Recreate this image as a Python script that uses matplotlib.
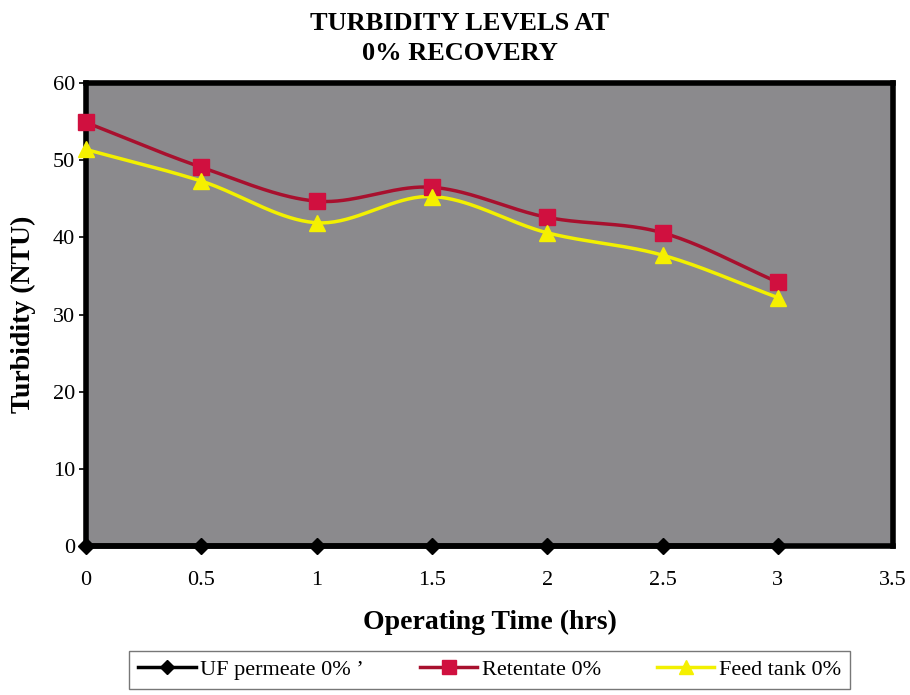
import numpy as np
import matplotlib
matplotlib.use("Agg")
import matplotlib.pyplot as plt
from matplotlib.lines import Line2D

# Operating time (hrs) and turbidity readings (NTU)
time_hrs = [0, 0.5, 1, 1.5, 2, 2.5, 3]
uf_permeate = [0, 0, 0, 0, 0, 0, 0]
retentate = [54.9, 49.1, 44.7, 46.5, 42.6, 40.6, 34.2]
feed_tank = [51.4, 47.3, 41.9, 45.3, 40.6, 37.7, 32.2]

series_names = ["UF permeate 0% \u02bc", "Retentate 0%", "Feed tank 0%"]
x_ticks = [0, 0.5, 1, 1.5, 2, 2.5, 3, 3.5]
x_tick_labels = ["0", "0.5", "1", "1.5", "2", "2.5", "3", "3.5"]
y_ticks = [0, 10, 20, 30, 40, 50, 60]


def smooth(x, y, n=40):
    """Catmull-Rom curve through the points (spreadsheet-style smoothed line)."""
    x = np.asarray(x, float)
    y = np.asarray(y, float)
    px = np.concatenate([[2 * x[0] - x[1]], x, [2 * x[-1] - x[-2]]])
    py = np.concatenate([[2 * y[0] - y[1]], y, [2 * y[-1] - y[-2]]])
    xs, ys = [], []
    t = np.linspace(0, 1, n)
    for i in range(1, len(px) - 2):
        for p, out in ((px, xs), (py, ys)):
            p0, p1, p2, p3 = p[i - 1], p[i], p[i + 1], p[i + 2]
            out.extend(0.5 * ((2 * p1) + (-p0 + p2) * t
                              + (2 * p0 - 5 * p1 + 4 * p2 - p3) * t ** 2
                              + (-p0 + 3 * p1 - 3 * p2 + p3) * t ** 3))
    return np.array(xs), np.array(ys)


plt.rcParams["font.family"] = ["Liberation Serif", "DejaVu Serif"]

fig = plt.figure(figsize=(9.10, 6.95), dpi=100)
ax = fig.add_axes([0.0945, 0.2144, 0.887, 0.666])
ax.set_facecolor("#8b8a8d")

colors = ["#000000", "#a8102e", "#f2f000"]
markers = ["D", "s", "^"]
msizes = [8, 11, 11]
data = [uf_permeate, retentate, feed_tank]

for vals, c in zip(data, colors):
    sx, sy = smooth(time_hrs, vals)
    lw = 4 if c == "#000000" else 2.5
    ax.plot(sx, sy, color=c, lw=lw, zorder=3, clip_on=False)
mcolors = ["#000000", "#d0103f", "#f5f000"]
for vals, c, m, ms in zip(data, mcolors, markers, msizes):
    ax.plot(time_hrs, vals, ls="none", marker=m, ms=ms, color=c,
            mec=c, zorder=4, clip_on=False)

ax.set_xlim(0, 3.5)
ax.set_ylim(0, 60)
ax.set_xticks(x_ticks)
ax.set_xticklabels(x_tick_labels, fontsize=16)
ax.set_yticks(y_ticks)
ax.tick_params(axis="y", labelsize=16, length=5, width=1.2, pad=3)
ax.tick_params(axis="x", length=0, pad=18)

for side in ("left", "bottom", "top", "right"):
    ax.spines[side].set_linewidth(4)
    ax.spines[side].set_color("black")

ax.set_ylabel("Turbidity (NTU)", fontsize=20, fontweight="bold", labelpad=12)
ax.set_xlabel("Operating Time (hrs)", fontsize=20, fontweight="bold", labelpad=14)

fig.text(0.505, 0.966, "TURBIDITY LEVELS AT", ha="center", va="center",
         fontsize=19, fontweight="bold")
fig.text(0.505, 0.923, "0% RECOVERY", ha="center", va="center",
         fontsize=19, fontweight="bold")

handles = [Line2D([], [], color=c, lw=2.5, marker=m, ms=ms - 1, mfc=mc, mec=mc)
           for c, mc, m, ms in zip(colors, mcolors, markers, msizes)]
fig.legend(handles, series_names, loc="center", bbox_to_anchor=(0.538, 0.036),
           ncol=3, fontsize=16, frameon=True, fancybox=False, edgecolor="#555555",
           handlelength=2.6, handletextpad=0.2, columnspacing=2.5,
           borderpad=0.4)

fig.savefig("out.png", dpi=100)
